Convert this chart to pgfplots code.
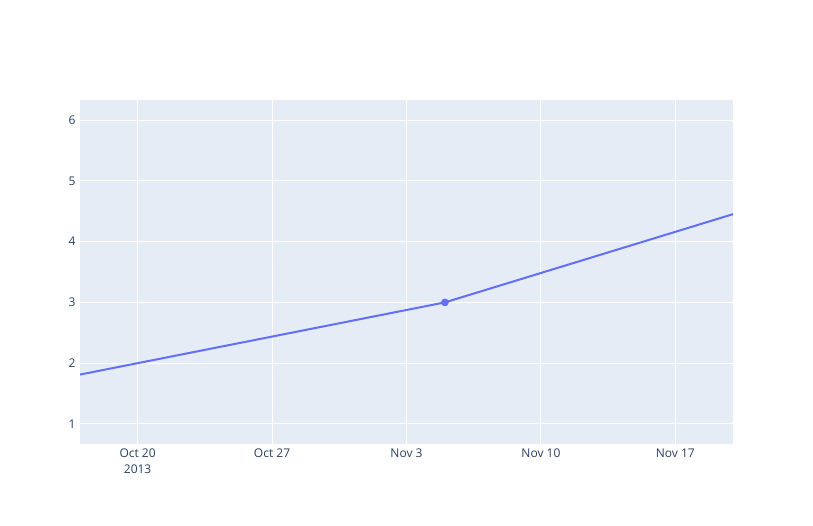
\documentclass[border=0pt]{standalone}
\usepackage{fontspec}
\setmainfont{Open Sans}
\usepackage{pgfplots}
\pgfplotsset{compat=1.18}
\definecolor{bgc}{HTML}{E5ECF6}
\definecolor{linec}{HTML}{636EFA}
\definecolor{txtc}{HTML}{2A3F5F}
\begin{document}
\begin{tikzpicture}
\path[use as bounding box] (0pt,0pt) rectangle (813pt,525pt);
\begin{axis}[
  at={(80pt,81pt)}, anchor=south west,
  scale only axis, width=653pt, height=344pt,
  xmin=-3, xmax=31, ymin=0.67, ymax=6.33,
  axis background/.style={fill=bgc},
  axis line style={draw=none},
  major tick length=0pt,
  xtick={0,7,14,21,28},
  xticklabels={{Oct 20\\2013},{Oct 27},{Nov 3},{Nov 10},{Nov 17}},
  ytick={1,2,3,4,5,6},
  x tick label style={align=center, font=\fontsize{12}{16}\selectfont, text=txtc, anchor=north, yshift=-1pt},
  y tick label style={font=\fontsize{12}{14}\selectfont, text=txtc, xshift=-1pt},
  /pgf/number format/assume math mode=true,
  grid=major,
  major grid style={white, line width=1pt},
  clip=true,
]
\addplot[linec, line width=2pt, mark=*, mark size=2.8pt, mark options={fill=linec, draw=none}]
  coordinates {(-16,1) (16,3) (47,6)};
\end{axis}
\end{tikzpicture}
\end{document}
